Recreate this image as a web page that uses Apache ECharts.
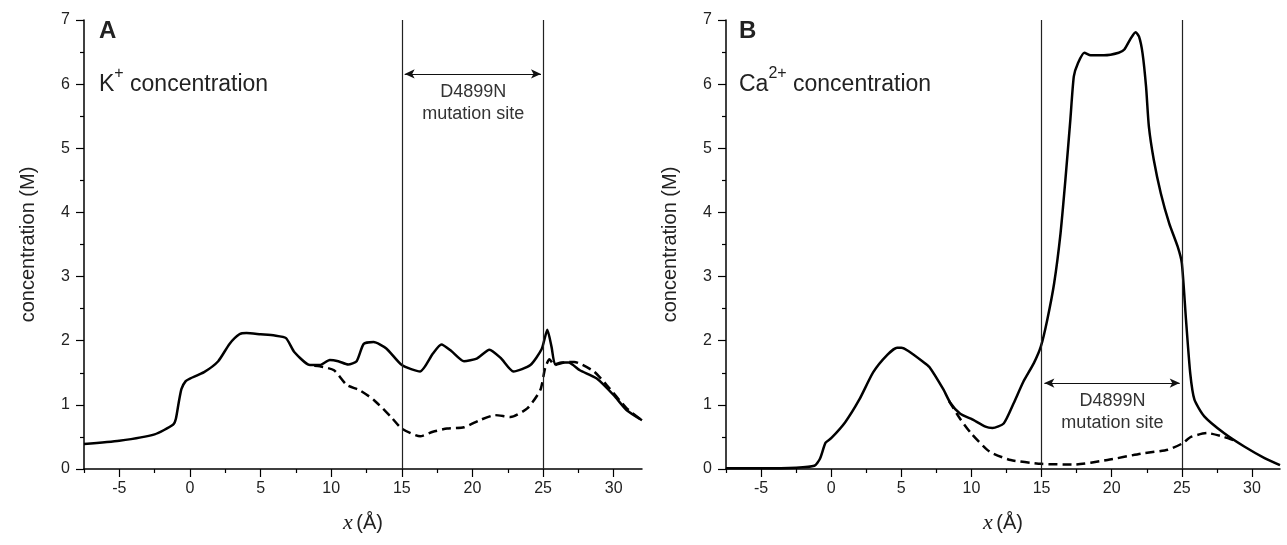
<!DOCTYPE html>
<html>
<head>
<meta charset="utf-8">
<script src="https://cdn.jsdelivr.net/npm/echarts@6/dist/echarts.min.js"></script>
<style>
html, body { margin: 0; padding: 0; background: #fff; }
#chart { width: 1287px; height: 545px; }
</style>
</head>
<body>
<div id="chart"></div>
<script>
// panel A: K+ concentration, x in Angstrom, concentration in M
var kSolidX = [-7.5, -5, -2.5, -1.2, -1.0, -0.8, -0.6, -0.3, 0, 1, 2, 2.8, 3.5, 4, 5, 6, 6.8, 7.4, 8.5, 9.2,
  9.9, 10.5, 11.2, 11.8, 12.3, 13, 13.9, 15, 16.3, 17.2, 17.8, 18.5, 19.4, 20.3, 21.2, 22, 22.9, 24.1, 24.9,
  25.3, 25.6, 25.85, 26.3, 26.8, 27.6, 28.8, 30, 30.9, 32];
var kSolidY = [0.39, 0.44, 0.54, 0.69, 0.78, 1.03, 1.25, 1.37, 1.41, 1.51, 1.68, 1.95, 2.10, 2.12, 2.10, 2.08, 2.04, 1.82, 1.62, 1.62,
  1.70, 1.68, 1.63, 1.68, 1.95, 1.98, 1.88, 1.62, 1.52, 1.80, 1.94, 1.84, 1.68, 1.72, 1.86, 1.73, 1.52, 1.62, 1.87,
  2.17, 1.90, 1.63, 1.66, 1.66, 1.54, 1.41, 1.15, 0.92, 0.76];
var kDashX = [8.8, 9.2, 10.2, 11.1, 12.0, 13.0, 14.2, 15.0, 16.3, 17.2, 18.2, 19.4, 20.5, 21.6, 22.7, 23.9, 24.8,
  25.15, 25.45, 25.8, 26.5, 27.2, 28.6, 29.5, 30.9, 32];
var kDashY = [1.61, 1.60, 1.54, 1.31, 1.23, 1.08, 0.82, 0.63, 0.51, 0.58, 0.63, 0.65, 0.76, 0.84, 0.81, 0.95, 1.23,
  1.58, 1.71, 1.62, 1.66, 1.67, 1.52, 1.31, 0.95, 0.76];

// panel B: Ca2+ concentration
var caSolidX = [-7.5, -5, -2.5, -1.2, -0.8, -0.4, 0, 1, 2, 3, 4, 4.7, 5, 5.5, 6.5, 7, 8, 8.5, 9.2, 10, 11, 11.5,
  12.3, 13, 13.7, 14.45, 14.95, 15.4, 15.9, 16.35, 16.7, 17.05, 17.3, 17.6, 18.05, 18.5, 19.45, 20.5, 20.9, 21.35,
  21.7, 21.95, 22.2, 22.45, 22.65, 23, 23.5, 24.1, 24.7, 25, 25.3, 25.6, 25.9, 26.6, 28, 29.45, 30.9, 32];
var caSolidY = [0.01, 0.01, 0.02, 0.05, 0.16, 0.41, 0.48, 0.73, 1.08, 1.51, 1.78, 1.89, 1.89, 1.84, 1.68, 1.59, 1.24, 1.03, 0.86, 0.78, 0.66, 0.64,
  0.71, 1.02, 1.36, 1.65, 1.91, 2.32, 2.90, 3.67, 4.51, 5.44, 6.12, 6.33, 6.49, 6.45, 6.45, 6.49, 6.54, 6.71,
  6.81, 6.74, 6.48, 5.96, 5.34, 4.82, 4.30, 3.83, 3.47, 3.21, 2.32, 1.49, 1.08, 0.82, 0.56, 0.35, 0.17, 0.06];
var caDashX = [8.4, 9.2, 10, 11.3, 12.8, 15, 17.3, 19.7, 22.1, 24, 25.05, 25.65, 26.8, 28, 28.8];
var caDashY = [1.06, 0.78, 0.55, 0.27, 0.14, 0.08, 0.07, 0.14, 0.24, 0.30, 0.40, 0.50, 0.56, 0.50, 0.44];

// x tick values
var majorTicks = [-5, 0, 5, 10, 15, 20, 25, 30];
var minorTicks = [-7.5, -2.5, 2.5, 7.5, 12.5, 17.5, 22.5, 27.5];

function zip(xs, ys) {
  return xs.map(function (x, i) { return [x, ys[i]]; });
}

var FONT = 'Liberation Sans, Arial, sans-serif';
var black = '#000';

var grids = [
  { left: 84, right: 645, top: 20, bottom: 76 },
  { left: 726, right: 7, top: 20, bottom: 76 }
];

function xMain(g) {
  return {
    gridIndex: g, type: 'value', min: -7.5, max: 32, position: 'bottom',
    name: '{i|x} {n|(Å)}', nameLocation: 'middle', nameGap: 43,
    nameTextStyle: {
      rich: {
        i: { fontFamily: 'Liberation Serif', fontStyle: 'italic', fontSize: 22, color: '#222' },
        n: { fontFamily: FONT, fontSize: 20, color: '#222' }
      }
    },
    axisLine: { show: true, onZero: false, lineStyle: { color: black, width: 1.5 } },
    axisTick: { show: true, length: 8, customValues: majorTicks, lineStyle: { color: black, width: 1.2 } },
    axisLabel: { customValues: majorTicks, margin: 12, fontSize: 16, color: '#222', fontFamily: FONT },
    splitLine: { show: false }
  };
}

function xMinor(g) {
  return {
    gridIndex: g, type: 'value', min: -7.5, max: 32, position: 'bottom',
    axisLine: { show: false, onZero: false },
    axisTick: { show: true, length: 4, customValues: minorTicks, lineStyle: { color: black, width: 1.2 } },
    axisLabel: { show: false },
    splitLine: { show: false }
  };
}

function yAxis(g) {
  return {
    gridIndex: g, type: 'value', min: 0, max: 7, interval: 1, position: 'left',
    name: 'concentration (M)', nameLocation: 'middle', nameGap: 46,
    nameTextStyle: { fontSize: 20, color: '#222', fontFamily: FONT },
    axisLine: { show: true, onZero: false, lineStyle: { color: black, width: 1.5 } },
    axisTick: { show: true, length: 8, lineStyle: { color: black, width: 1.2 } },
    minorTick: { show: true, splitNumber: 2, length: 4, lineStyle: { color: black, width: 1.2 } },
    axisLabel: { margin: 14, fontSize: 16, color: '#222', fontFamily: FONT },
    splitLine: { show: false },
    minorSplitLine: { show: false }
  };
}

function dashSeries(g, xs, ys) {
  return {
    type: 'line', xAxisIndex: 2 * g, yAxisIndex: g, data: zip(xs, ys),
    symbol: 'none', smooth: 0.2, z: 2,
    lineStyle: { color: black, width: 2.5, type: [9, 5] },
    markLine: {
      silent: true, symbol: 'none', label: { show: false },
      lineStyle: { color: '#222', width: 1.2, type: 'solid' },
      data: [{ xAxis: 15 }, { xAxis: 25 }]
    }
  };
}

function solidSeries(g, xs, ys, arrowY, textY) {
  return {
    type: 'line', xAxisIndex: 2 * g, yAxisIndex: g, data: zip(xs, ys),
    symbol: 'none', smooth: 0.2, z: 3,
    lineStyle: { color: black, width: 2.5 },
    markLine: {
      silent: true, symbol: ['arrow', 'arrow'], symbolSize: [7, 10], label: { show: false },
      lineStyle: { color: '#111', width: 1.2, type: 'solid' },
      data: [[{ coord: [15.2, arrowY] }, { coord: [24.85, arrowY] }]]
    },
    markPoint: {
      silent: true, symbol: 'circle', symbolSize: 1, itemStyle: { color: 'rgba(0,0,0,0)' },
      label: {
        show: true, position: 'inside', formatter: 'D4899N\nmutation site',
        fontSize: 18, lineHeight: 22, color: '#333', fontFamily: FONT
      },
      data: [{ coord: [20.05, textY] }]
    }
  };
}

var richTitle = {
  n: { fontSize: 23, fontWeight: 'normal', color: '#222', fontFamily: FONT, verticalAlign: 'bottom', lineHeight: 26 },
  s: { fontSize: 16, fontWeight: 'normal', color: '#222', fontFamily: FONT, verticalAlign: 'bottom', lineHeight: 16, padding: [0, 0, 14, 0] }
};

var option = {
  animation: false,
  backgroundColor: '#fff',
  title: [
    { text: 'A', left: 99, top: 19, padding: 0, textStyle: { fontSize: 24, fontWeight: 'bold', color: '#222', fontFamily: FONT } },
    { text: '{n|K}{s|+}{n| concentration}', left: 99, top: 70, padding: 0, textStyle: { fontWeight: 'normal', rich: richTitle } },
    { text: 'B', left: 739, top: 19, padding: 0, textStyle: { fontSize: 24, fontWeight: 'bold', color: '#222', fontFamily: FONT } },
    { text: '{n|Ca}{s|2+}{n| concentration}', left: 739, top: 70, padding: 0, textStyle: { fontWeight: 'normal', rich: richTitle } }
  ],
  grid: grids,
  xAxis: [xMain(0), xMinor(0), xMain(1), xMinor(1)],
  yAxis: [yAxis(0), yAxis(1)],
  series: [
    dashSeries(0, kDashX, kDashY),
    solidSeries(0, kSolidX, kSolidY, 6.16, 5.71),
    dashSeries(1, caDashX, caDashY),
    solidSeries(1, caSolidX, caSolidY, 1.34, 0.89)
  ]
};

var chart = echarts.init(document.getElementById('chart'));
chart.setOption(option);
window.addEventListener('resize', function () { chart.resize(); });
</script>
</body>
</html>
